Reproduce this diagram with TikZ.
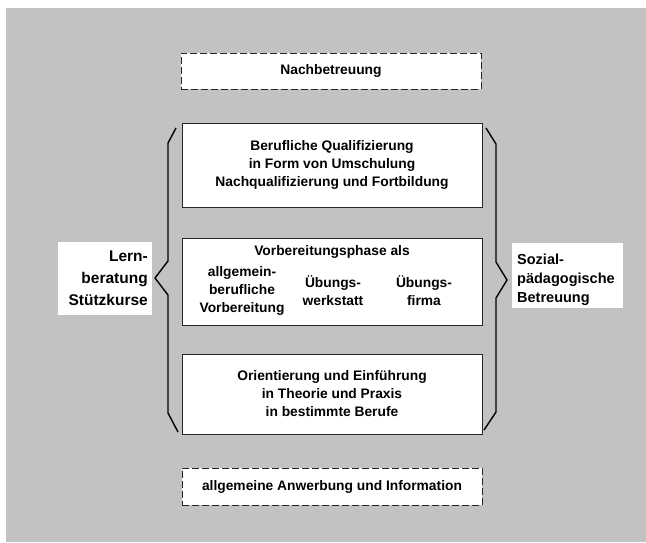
\documentclass[tikz,border=0pt]{standalone}
\usepackage{fontspec}
\setmainfont{Liberation Sans}
\begin{document}
\begin{tikzpicture}[x=1pt,y=-1pt,
  txt/.style={font=\fontsize{13.8}{18}\selectfont\bfseries, align=center, inner sep=0pt},
  stage/.style={draw=black!85, line width=0.8pt, fill=white, minimum width=300pt, inner sep=0pt},
  dstage/.style={stage, dashed, dash pattern=on 7pt off 3pt, line width=1pt},
  side/.style={fill=white, inner sep=0pt},
  bracket/.style={draw=black, line width=1.4pt, line join=round}]
\useasboundingbox (0,0) rectangle (646,542);
\fill[black!24] (6,8) rectangle (646,542);

% stages
\node[dstage, minimum height=36pt] (nach) at (331,71) {};
\node[txt] (nacht) at (331,71) {Nachbetreuung};

\node[stage, minimum height=84pt] (b1) at (332,165) {};
\node[txt] (b1t) at (332,165) {Berufliche Qualifizierung\\in Form von Umschulung\\Nachqualifizierung und Fortbildung};

\node[stage, minimum height=87pt] (b2) at (332,281.5) {};
\node[txt] (b2t) at (332,252) {Vorbereitungsphase als};
\node[txt] (c1) at (242,291) {allgemein-\\berufliche\\Vorbereitung};
\node[txt] (c2) at (333,291) {Übungs-\\werkstatt};
\node[txt] (c3) at (424,291) {Übungs-\\firma};

\node[stage, minimum height=80pt] (b3) at (332,394) {};
\node[txt] (b3t) at (332,394) {Orientierung und Einführung\\in Theorie und Praxis\\in bestimmte Berufe};

\node[dstage, minimum height=37pt] (anw) at (332,486.5) {};
\node[txt] (anwt) at (332,486.5) {allgemeine Anwerbung und Information};

% side labels
\fill[white] (58,242) rectangle (152,315);
\node[txt, font=\fontsize{15.5}{22}\selectfont\bfseries, align=right, anchor=east] (lern) at (148,278) {Lern-\\beratung\\Stützkurse};
\fill[white] (512,243) rectangle (623,308);
\node[txt, font=\fontsize{14.5}{19}\selectfont\bfseries, align=left, anchor=west] (sozial) at (517,280) {Sozial-\\pädagogische\\Betreuung};

% brackets
\coordinate (lt) at (176,128);
\coordinate (lb) at (178,432);
\coordinate (lp) at (155,278);
\coordinate (rt) at (486,128);
\coordinate (rb) at (484,430);
\coordinate (rp) at (507,280);
\draw[bracket] (lt) -- (168,143) -- (168,261) -- (lp) -- (168,295) -- (168,413) -- (lb);
\draw[bracket] (rt) -- (496,144) -- (496,262) -- (rp) -- (496,298) -- (496,412) -- (rb);
\end{tikzpicture}
\end{document}
